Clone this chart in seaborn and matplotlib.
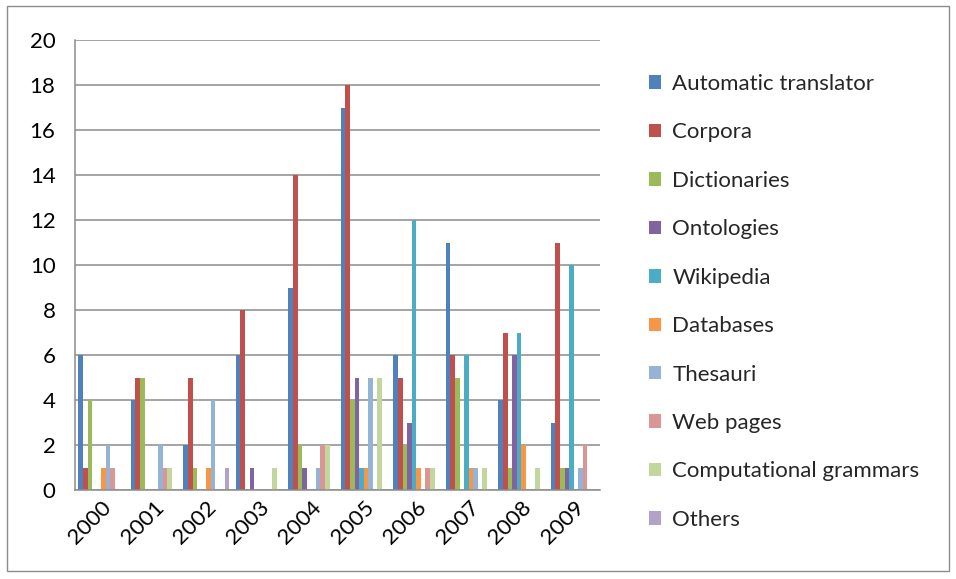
### language resources per year chart
#   grouped bar chart of resources used, 2000 to 2009

# import statements
from matplotlib.patches import Patch, Rectangle
import matplotlib
matplotlib.use('Agg')
import matplotlib.pyplot as plt
import pandas as pd
import seaborn as sns

# years on the x axis
years = ['2000', '2001', '2002', '2003', '2004',
         '2005', '2006', '2007', '2008', '2009']

# one list of counts per resource type, in year order
automatic_translator   = [6, 4, 2, 6, 9, 17, 6, 11, 4, 3]
corpora                = [1, 5, 5, 8, 14, 18, 5, 6, 7, 11]
dictionaries           = [4, 5, 1, 0, 2, 4, 2, 5, 1, 1]
ontologies             = [0, 0, 0, 1, 1, 5, 3, 0, 6, 1]
wikipedia              = [0, 0, 0, 0, 0, 1, 12, 6, 7, 10]
databases              = [1, 0, 1, 0, 0, 1, 1, 1, 2, 0]
thesauri               = [2, 2, 4, 0, 1, 5, 0, 1, 0, 1]
web_pages              = [1, 1, 0, 0, 2, 0, 1, 0, 0, 2]
computational_grammars = [0, 1, 0, 1, 2, 5, 1, 1, 1, 0]
others                 = [0, 0, 1, 0, 0, 0, 0, 0, 0, 0]

# series names, as shown in the legend
series = ['Automatic translator', 'Corpora', 'Dictionaries', 'Ontologies',
          'Wikipedia', 'Databases', 'Thesauri', 'Web pages',
          'Computational grammars', 'Others']
values = [automatic_translator, corpora, dictionaries, ontologies,
          wikipedia, databases, thesauri, web_pages,
          computational_grammars, others]

# office style palette
colors = ['#4F81BD', '#C0504D', '#9BBB59', '#8064A2', '#4BACC6',
          '#F79646', '#95B3D7', '#D99694', '#C3D69B', '#B3A2C7']

# build long format dataset for seaborn
rows = []
for name, counts in zip(series, values):
    for year, count in zip(years, counts):
        rows.append((year, name, count))
df = pd.DataFrame(rows, columns = ['year', 'resource', 'count'])

# theme and fonts
sns.set_style('white')
plt.rcParams['font.family'] = ['Lato', 'DejaVu Sans']
FONT = 16

# figure and plot area
fig = plt.figure(figsize = (9.56, 5.79), dpi = 100)
ax = fig.add_axes([75 / 956, 89 / 579, 525 / 956, 450 / 579])

# grouped bars
sns.barplot(data = df, x = 'year', y = 'count', hue = 'resource',
            hue_order = series, order = years, palette = colors,
            width = 0.87, gap = 0, linewidth = 0, saturation = 1,
            errorbar = None, legend = False, ax = ax)

# axis limits, ticks and grid
ax.set_ylim(0, 20)
ax.set_yticks(range(0, 21, 2))
ax.set_xlim(-0.5, len(years) - 0.5)
ax.yaxis.grid(True, color = '#8c8c8c', linewidth = 1.1)
ax.set_axisbelow(True)
ax.set_xlabel('')
ax.set_ylabel('')
ax.tick_params(axis = 'both', length = 0, labelsize = FONT,
               colors = '#000000')
ax.tick_params(axis = 'y', pad = 14)
ax.tick_params(axis = 'x', pad = 5)
plt.setp(ax.get_xticklabels(), rotation = 45, ha = 'right',
         rotation_mode = 'anchor')

# spines
for side in ['top', 'right']:
    ax.spines[side].set_visible(False)
for side in ['left', 'bottom']:
    ax.spines[side].set_color('#8c8c8c')
    ax.spines[side].set_linewidth(1.1)

# legend with square markers
handles = [Patch(facecolor = c, edgecolor = 'none') for c in colors]
fig.legend(handles, series, loc = 'upper left',
           bbox_to_anchor = (640 / 956, 1 - 65 / 579), frameon = False,
           fontsize = FONT, handlelength = 0.55, handleheight = 0.55,
           handletextpad = 0.5, labelspacing = 1.28, borderaxespad = 0)

# outer chart border
fig.patches.append(Rectangle((7 / 956, 8 / 579), 942 / 956, 565 / 579,
                             transform = fig.transFigure, fill = False,
                             edgecolor = '#8c8c8c', linewidth = 1))

# save to file
fig.savefig('out.png', dpi = 100)
